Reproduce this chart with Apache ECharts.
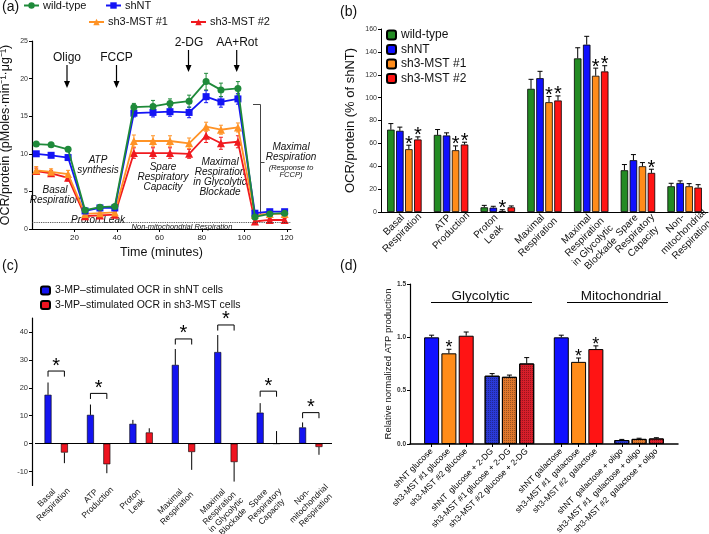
<!DOCTYPE html>
<html><head><meta charset="utf-8">
<script src="https://cdn.jsdelivr.net/npm/echarts@6/dist/echarts.min.js"></script>
<style>html,body{margin:0;padding:0;background:#fff}#c{width:709px;height:534px}</style>
</head><body><div id="c"></div>
<script>
// ================= DATA =================
// Panel (a): OCR time course
const aTimes      = [2, 9, 17, 25, 32, 39, 48, 57, 65, 74, 82, 89, 97, 105, 112, 119];
const aWildType   = [11.3, 11.2, 10.6, 2.5, 2.9, 3.0, 16.2, 16.3, 16.7, 17.0, 19.6, 18.5, 18.7, 1.6, 2.0, 2.1];
const aWildTypeE  = [0.2, 0.2, 0.2, 0.2, 0.2, 0.2, 0.5, 0.8, 0.6, 0.8, 1.1, 0.9, 0.9, 0.2, 0.2, 0.2];
const aShNT       = [10.0, 9.8, 9.5, 2.4, 2.8, 2.8, 15.4, 15.5, 15.6, 15.5, 17.6, 16.9, 17.3, 2.1, 2.3, 2.3];
const aShNTE      = [0.3, 0.3, 0.3, 0.2, 0.2, 0.2, 0.5, 0.6, 0.6, 0.7, 0.8, 0.7, 0.7, 0.2, 0.2, 0.2];
const aMST1       = [7.8, 7.6, 7.3, 2.0, 2.1, 2.2, 11.7, 11.7, 11.7, 11.4, 13.6, 13.2, 13.5, 1.9, 2.0, 2.0];
const aMST1E      = [0.5, 0.4, 0.5, 0.2, 0.2, 0.2, 0.8, 0.7, 0.7, 0.7, 0.6, 0.6, 0.6, 0.2, 0.2, 0.2];
const aMST2       = [7.7, 7.4, 6.8, 1.7, 1.8, 1.9, 10.1, 10.1, 10.1, 10.0, 12.4, 11.4, 11.6, 1.0, 1.2, 1.2];
const aMST2E      = [0.4, 0.4, 0.4, 0.2, 0.2, 0.2, 0.7, 0.7, 0.7, 0.6, 0.9, 0.8, 0.8, 0.2, 0.2, 0.2];
const aNonMito    = 0.9;

// Panel (b): OCR/protein (% of shNT)
const bCategories = ['Basal\nRespiration', 'ATP\nProduction', 'Proton\nLeak', 'Maximal\nRespiration',
                     'Maximal\nRespiration\nin Glycolytic\nBlockade', 'Spare\nRespiratory\nCapacity',
                     'Non-\nmitochondrial\nRespiration'];
const bWildType  = [72, 67.4, 4.1, 107.7, 134.3, 36.5, 22.5];
const bWildTypeE = [5.3, 4.7, 1.7, 8.3, 9.3, 5.0, 2.6];
const bShNT      = [71, 66.9, 3.8, 117, 146.3, 45.3, 25.4];
const bShNTE     = [3.2, 2.3, 1.2, 6.0, 7.3, 4.9, 1.8];
const bMST1      = [54.9, 54, 0.9, 96, 119.1, 40, 22.5];
const bMST1E     = [3.5, 3.8, 1.1, 5.0, 6.7, 3.2, 2.3];
const bMST2      = [63.4, 59, 4.1, 97.5, 122.9, 34.2, 21.3];
const bMST2E     = [2.3, 2.0, 1.2, 4.0, 5.0, 3.2, 2.6];
const bMST1Sig   = [1, 1, 1, 1, 1, 0, 0];
const bMST2Sig   = [1, 1, 0, 1, 1, 1, 0];

// Panel (c): increment in dOCR
const cShNT      = [17.5, 10.3, 7.1, 28.2, 32.8, 11.1, 5.8];
const cShNTE     = [4.4, 3.7, 1.4, 5.7, 6.1, 3.4, 1.8];
const cMST       = [-3.2, -7.4, 4.0, -3.0, -6.6, 0, -1.2];
const cMSTE      = [3.8, 3.2, 1.5, 6.4, 7.0, 4.5, 2.8];
const cSigLevel  = [26, 18, null, 37.5, 42.5, 18.8, 11.1];

// Panel (d): relative normalized ATP production
const dLabels = ['shNT glucose', 'sh3-MST #1 glucose', 'sh3-MST #2 glucose',
                 'shNT  glucose + 2-DG', 'sh3-MST #1 glucose + 2-DG', 'sh3-MST #2 glucose + 2-DG',
                 'shNT galactose', 'sh3-MST #1  galactose', 'sh3-MST #2  galactose',
                 'shNT  galactose + oligo', 'sh3-MST #1  galactose + oligo', 'sh3-MST #2  galactose + oligo'];
const dValues = [1.0, 0.85, 1.015, 0.64, 0.63, 0.755, 1.0, 0.77, 0.89, 0.037, 0.048, 0.052];
const dErr    = [0.02, 0.038, 0.035, 0.02, 0.016, 0.055, 0.02, 0.036, 0.03, 0.006, 0.006, 0.007];
const dSig    = [0, 1, 0, 0, 0, 0, 0, 1, 1, 0, 0, 0];

// ================= STYLE / LAYOUT =================
const FONT = '"Liberation Sans", Arial, Helvetica, sans-serif';
const GREEN = '#1f8a3a', BLUE = '#1414f5', ORANGE = '#ff9326', RED = '#f01a1f';
const bGreen = '#238b23', bBlue = '#1010ff', bOrange = '#ff8c1a', bRed = '#ff1414';
const cYMin = -15, cYMax = 45;

// slot layout for panel (d): gap sizes between bars (in slot units)
const dSteps = [0, 2, 2, 3, 2, 2, 4, 2, 2, 3, 2, 2];
const dSlots = []; { let s = 2; dSteps.forEach((g) => { s += g; dSlots.push(s); }); }
const dNSlots = 31;
const dCats = Array.from({length: dNSlots}, (_, i) => { const k = dSlots.indexOf(i); return k >= 0 ? dLabels[k] : '_s' + i; });
const dColors = [bBlue, bOrange, bRed, '#2b3ad6', '#e0772c', '#d81e2a', bBlue, bOrange, bRed, '#2b3ad6', '#e0772c', '#d81e2a'];
const dPattern = [0, 0, 0, 1, 1, 1, 0, 0, 0, 1, 1, 1];

const measureCtx = document.createElement('canvas').getContext('2d');
function textWidth(s, size) { measureCtx.font = size + 'px ' + FONT; return measureCtx.measureText(s).width; }

function errRender(nBars, barIndex, barWidth, gapRatio, capW, color, starSize) {
  return function (params, api) {
    const cat = api.value(0), v = api.value(1), e = api.value(2), sig = api.value(3);
    const p = api.coord([cat, v]);
    const off = (barIndex - (nBars - 1) / 2) * barWidth * (1 + gapRatio);
    const x = p[0] + off;
    const dir = v < 0 ? -1 : 1;
    const q = api.coord([cat, v + dir * e]);
    const ch = [];
    if (e > 0) {
      ch.push({type: 'line', shape: {x1: x, y1: p[1], x2: x, y2: q[1]}, style: {stroke: color, lineWidth: 1}});
      ch.push({type: 'line', shape: {x1: x - capW / 2, y1: q[1], x2: x + capW / 2, y2: q[1]}, style: {stroke: color, lineWidth: 1}});
    }
    if (sig) {
      ch.push({type: 'text', x: x, y: q[1] - 1, style: {text: '*', fontSize: starSize, fontFamily: FONT, fill: '#000', align: 'center', verticalAlign: 'middle'}});
    }
    return {type: 'group', children: ch};
  };
}

// rotated multi-line category label: lines centred on a common axis, first line ends at the category position
function catLabelRender(labels, baseValue, size, lh, dx, dy) {
  const c = Math.SQRT1_2;
  return function (params, api) {
    const i = api.value(0);
    const p = api.coord([i, baseValue]);
    const lines = labels[i].split('\n');
    const L1 = textWidth(lines[0], size);
    const ex = p[0] + dx, ey = p[1] + dy;
    const cx0 = ex - (L1 / 2) * c, cy0 = ey + (L1 / 2) * c;
    return {type: 'group', children: lines.map((s, k) => ({
      type: 'text', x: cx0 + k * lh * c, y: cy0 + k * lh * c, rotation: Math.PI / 4,
      style: {text: s, fontSize: size, fontFamily: FONT, fill: '#111', align: 'center', verticalAlign: 'middle'}
    }))};
  };
}

function lineErrRender(color) {
  return function (params, api) {
    const t = api.value(0), v = api.value(1), e = api.value(2);
    const a = api.coord([t, v - e]), b = api.coord([t, v + e]);
    return {type: 'group', children: [
      {type: 'line', shape: {x1: a[0], y1: a[1], x2: b[0], y2: b[1]}, style: {stroke: color, lineWidth: 1}},
      {type: 'line', shape: {x1: a[0] - 2, y1: a[1], x2: a[0] + 2, y2: a[1]}, style: {stroke: color, lineWidth: 1}},
      {type: 'line', shape: {x1: b[0] - 2, y1: b[1], x2: b[0] + 2, y2: b[1]}, style: {stroke: color, lineWidth: 1}}
    ]};
  };
}

function bracketRender(barWidth, gapRatio) {
  return function (params, api) {
    const cat = api.value(0), h = api.value(1);
    if (isNaN(h)) return null;
    const p = api.coord([cat, h]);
    const d = barWidth * (1 + gapRatio) / 2;
    const low = api.coord([cat, h - 2])[1];
    return {type: 'group', children: [
      {type: 'polyline', shape: {points: [[p[0] - d, low], [p[0] - d, p[1]], [p[0] + d, p[1]], [p[0] + d, low]]}, style: {stroke: '#000', lineWidth: 1, fill: null}},
      {type: 'text', x: p[0], y: p[1] - 5, style: {text: '*', fontSize: 20, fontFamily: FONT, fill: '#000', align: 'center', verticalAlign: 'middle'}}
    ]};
  };
}

const axisLineStyle = {lineStyle: {color: '#000', width: 1}};
const tickStyle = {show: true, length: 3, lineStyle: {color: '#000'}};

function lineSeries(name, arr, color, symbol, z) {
  return {name, type: 'line', xAxisIndex: 0, yAxisIndex: 0, data: aTimes.map((t, i) => [t, arr[i]]),
          symbol, symbolSize: symbol === 'triangle' ? 8 : 7, itemStyle: {color}, lineStyle: {color, width: 1.8}, z, animation: false};
}
function lineErr(arr, err, color, z) {
  return {type: 'custom', xAxisIndex: 0, yAxisIndex: 0, data: aTimes.map((t, i) => [t, arr[i], err[i]]),
          renderItem: lineErrRender(color), z, silent: true, animation: false};
}

const bBW = 7.5, bGap = 0.2;
function bBar(name, arr, color) {
  return {name, type: 'bar', xAxisIndex: 1, yAxisIndex: 1, data: arr, barWidth: bBW, barGap: (bGap * 100) + '%',
          itemStyle: {color, borderColor: '#000', borderWidth: 0.8}, animation: false};
}
function bErr(arr, err, sig, idx) {
  return {type: 'custom', xAxisIndex: 1, yAxisIndex: 1, data: arr.map((v, i) => [i, v, err[i], sig ? sig[i] : 0]),
          renderItem: errRender(4, idx, bBW, bGap, 5, '#000', 20), z: 5, silent: true, animation: false};
}

const cBW = 7, cGap = 1.34;

const names = {b: ['b:wild-type', 'b:shNT', 'b:sh3-MST #1', 'b:sh3-MST #2']};
const cNames = ['3-MP\u2013stimulated OCR in shNT cells', '3-MP\u2013stimulated OCR in sh3-MST cells'];

function legendA(name, left, top) {
  return {data: [name], left, top, itemWidth: 15, itemHeight: 8, padding: 0,
          textStyle: {fontSize: 11, fontFamily: FONT, color: '#111', padding: [0, 0, 0, -1]}, selectedMode: false};
}

function txt(x, y, text, size, style, align) {
  return {type: 'text', x, y, silent: true, style: {text, fontSize: size, fontFamily: FONT, fontStyle: style || 'normal',
          fill: '#111', align: align || 'center', verticalAlign: 'middle', lineHeight: size * 1.0}};
}
function arrow(x, y1, y2) {
  return {type: 'group', silent: true, children: [
    {type: 'line', shape: {x1: x, y1: y1, x2: x, y2: y2 - 5}, style: {stroke: '#000', lineWidth: 1.2}},
    {type: 'polygon', shape: {points: [[x - 3, y2 - 7], [x + 3, y2 - 7], [x, y2]]}, style: {fill: '#000'}}
  ]};
}

const option = {
  backgroundColor: '#fff',
  textStyle: {fontFamily: FONT},
  animation: false,
  grid: [
    {left: 32, top: 41, width: 259, height: 188, outerBoundsMode: 'none'},
    {left: 381, top: 29, width: 327, height: 183, outerBoundsMode: 'none'},
    {left: 35, top: 318, width: 297, height: 167.5, outerBoundsMode: 'none'},
    {left: 410, top: 284, width: 268, height: 160, outerBoundsMode: 'none'}
  ],
  legend: [
    legendA('wild-type', 23, 0),
    legendA('shNT', 105, 0),
    legendA('sh3-MST #1', 88, 16.5),
    legendA('sh3-MST #2', 190, 16.5),
    {data: names.b, orient: 'vertical', left: 386, top: 29, itemWidth: 9, itemHeight: 9, itemGap: 2.5, padding: 0,
     formatter: (n) => n.slice(2), selectedMode: false, textStyle: {fontSize: 12, fontFamily: FONT, color: '#111'}},
    {data: cNames, orient: 'vertical', left: 40, top: 285, itemWidth: 9, itemHeight: 8, itemGap: 3.5, padding: 0,
     selectedMode: false, textStyle: {fontSize: 10.5, fontFamily: FONT, color: '#111'}}
  ],
  xAxis: [
    {gridIndex: 0, type: 'value', min: 0, max: 122, interval: 20, splitLine: {show: false},
     axisLine: {onZero: false, lineStyle: {color: '#000', width: 1}}, axisTick: tickStyle,
     axisLabel: {fontSize: 8, color: '#222', margin: 5, showMinLabel: false, showMaxLabel: false},
     name: 'Time (minutes)', nameLocation: 'middle', nameGap: 17, nameTextStyle: {fontSize: 12.5, color: '#111'}},
    {gridIndex: 1, type: 'category', data: bCategories, axisLine: axisLineStyle, axisTick: {show: false},
     axisLabel: {show: false}},
    {gridIndex: 2, type: 'category', data: bCategories, axisLine: {show: false, onZero: false}, axisTick: {show: false},
     axisLabel: {show: false}},
    {gridIndex: 3, type: 'category', data: dCats, axisLine: {lineStyle: {color: '#000', width: 1.5}},
     axisTick: {show: true, alignWithLabel: true, length: 3, interval: (i) => dSlots.indexOf(i) >= 0, lineStyle: {color: '#000'}},
     axisLabel: {interval: (i) => dSlots.indexOf(i) >= 0, rotate: 45, fontSize: 8.5, color: '#000', margin: 6,
                 formatter: (v) => v.startsWith('_s') ? '' : v}}
  ],
  yAxis: [
    {gridIndex: 0, type: 'value', min: 0, max: 25, interval: 5, splitLine: {show: false},
     axisLine: {show: true, lineStyle: {color: '#000', width: 1.2}}, axisTick: tickStyle,
     axisLabel: {fontSize: 7, color: '#333', margin: 4},
     name: 'OCR/protein (pMoles\u00b7min\u207b\u00b9\u00b7\u03bcg\u207b\u00b9)', nameLocation: 'middle', nameGap: 20, nameRotate: 90,
     nameTextStyle: {fontSize: 12.5, color: '#111'}},
    {gridIndex: 1, type: 'value', min: 0, max: 160, interval: 20, splitLine: {show: false},
     axisLine: {show: true, lineStyle: {color: '#000', width: 1}}, axisTick: tickStyle,
     axisLabel: {fontSize: 7, color: '#333', margin: 4},
     name: 'OCR/protein (% of shNT)', nameLocation: 'middle', nameGap: 24, nameRotate: 90,
     nameTextStyle: {fontSize: 13, color: '#111'}},
    {gridIndex: 2, type: 'value', min: cYMin, max: cYMax, splitNumber: 6, splitLine: {show: false}, offset: 3,
     axisLine: {show: true, lineStyle: {color: '#000', width: 1.2}}, axisTick: tickStyle,
     axisLabel: {fontSize: 7.5, color: '#333', margin: 4, showMinLabel: false, showMaxLabel: false},
     name: 'Increment in \u0394OCR (% of shNT)', nameLocation: 'middle', nameGap: 16, nameRotate: 90,
     nameTextStyle: {fontSize: 12, color: '#111', padding: [0, 0, 20, 0]}},
    {gridIndex: 3, type: 'value', min: 0, max: 1.5, interval: 0.5, splitLine: {show: false},
     axisLine: {show: true, lineStyle: {color: '#000', width: 1.2}}, axisTick: tickStyle,
     axisLabel: {fontSize: 6.5, fontWeight: 'bold', color: '#333', margin: 4, formatter: (v) => v.toFixed(1)},
     name: 'Relative normalized ATP production', nameLocation: 'middle', nameGap: 14, nameRotate: 90,
     nameTextStyle: {fontSize: 9.5, color: '#111'}}
  ],
  series: [
    // ---- (a)
    Object.assign(lineSeries('sh3-MST #2', aMST2, RED, 'triangle', 3), {
      markLine: {silent: true, symbol: 'none', label: {show: false}, data: [{yAxis: aNonMito}],
                 lineStyle: {color: '#333', type: 'dotted', width: 0.9}}}),
    lineSeries('sh3-MST #1', aMST1, ORANGE, 'triangle', 4),
    lineSeries('shNT', aShNT, BLUE, 'rect', 5),
    lineSeries('wild-type', aWildType, GREEN, 'circle', 6),
    lineErr(aMST2, aMST2E, RED, 2), lineErr(aMST1, aMST1E, ORANGE, 2),
    lineErr(aShNT, aShNTE, BLUE, 2), lineErr(aWildType, aWildTypeE, GREEN, 2),
    // ---- (b)
    bBar(names.b[0], bWildType, bGreen), bBar(names.b[1], bShNT, bBlue),
    bBar(names.b[2], bMST1, bOrange), bBar(names.b[3], bMST2, bRed),
    bErr(bWildType, bWildTypeE, null, 0), bErr(bShNT, bShNTE, null, 1),
    bErr(bMST1, bMST1E, bMST1Sig, 2), bErr(bMST2, bMST2E, bMST2Sig, 3),
    {type: 'custom', xAxisIndex: 1, yAxisIndex: 1, data: bCategories.map((c, i) => [i, 0]), silent: true, clip: false,
     renderItem: catLabelRender(bCategories, 0, 10, 11.5, -1.5, 4)},
    // ---- (c)
    {name: cNames[0], type: 'bar', xAxisIndex: 2, yAxisIndex: 2, data: cShNT, barWidth: cBW, barGap: (cGap * 100) + '%',
     itemStyle: {color: '#1414f0', borderColor: '#000', borderWidth: 0.6},
     markLine: {silent: true, symbol: 'none', label: {show: false}, data: [{yAxis: 0}], lineStyle: {color: '#000', type: 'solid', width: 1.2}}},
    {name: cNames[1], type: 'bar', xAxisIndex: 2, yAxisIndex: 2, data: cMST, barWidth: cBW, barGap: (cGap * 100) + '%',
     itemStyle: {color: '#ee1420', borderColor: '#000', borderWidth: 0.6}},
    {type: 'custom', xAxisIndex: 2, yAxisIndex: 2, data: cShNT.map((v, i) => [i, v, cShNTE[i], 0]),
     renderItem: errRender(2, 0, cBW, cGap, 0, '#000', 18), z: 5, silent: true},
    {type: 'custom', xAxisIndex: 2, yAxisIndex: 2, data: cMST.map((v, i) => [i, v, cMSTE[i], 0]),
     renderItem: errRender(2, 1, cBW, cGap, 0, '#000', 18), z: 5, silent: true},
    {type: 'custom', xAxisIndex: 2, yAxisIndex: 2, data: cSigLevel.map((h, i) => [i, h == null ? '-' : h]),
     renderItem: bracketRender(cBW, cGap), z: 5, silent: true},
    {type: 'custom', xAxisIndex: 2, yAxisIndex: 2, data: bCategories.map((c, i) => [i, cYMin]), silent: true, clip: false,
     renderItem: catLabelRender(bCategories, cYMin, 8.5, 9.5, -2, 5)},
    // ---- (d)
    {type: 'bar', xAxisIndex: 3, yAxisIndex: 3, barWidth: 15,
     data: dCats.map((c, i) => {
       const k = dSlots.indexOf(i);
       if (k < 0) return '-';
       const st = {color: dColors[k], borderColor: '#000', borderWidth: 1};
       if (dPattern[k]) st.decal = {symbol: 'rect', symbolSize: 1, color: 'rgba(0,0,0,0.3)', dashArrayX: [1, 1], dashArrayY: [1, 1]};
       return {value: dValues[k], itemStyle: st};
     })},
    {type: 'custom', xAxisIndex: 3, yAxisIndex: 3, data: dValues.map((v, k) => [dSlots[k], v, dErr[k], dSig[k]]),
     renderItem: errRender(1, 0, 15, 0, 5, '#000', 18), z: 5, silent: true}
  ],
  graphic: [
    txt(2, 7, '(a)', 14, 'normal', 'left'),
    txt(340, 12, '(b)', 14, 'normal', 'left'),
    txt(2, 266, '(c)', 14, 'normal', 'left'),
    txt(340, 266, '(d)', 14, 'normal', 'left'),
    txt(67, 58, 'Oligo', 12), arrow(67, 65, 88),
    txt(116.5, 58, 'FCCP', 12), arrow(116.5, 65, 88),
    txt(189, 43, '2-DG', 12), arrow(188.5, 50, 72),
    txt(237, 43, 'AA+Rot', 12), arrow(236.7, 50, 72),
    txt(98, 165, 'ATP\nsynthesis', 10, 'italic'),
    txt(55, 195, 'Basal\nRespiration', 10, 'italic'),
    txt(163, 177, 'Spare\nRespiratory\nCapacity', 10, 'italic'),
    txt(220, 177, 'Maximal\nRespiration\nin Glycolytic\nBlockade', 10, 'italic'),
    txt(98, 220.5, 'Proton Leak', 10, 'italic'),
    txt(182, 226.5, 'Non-mitochondrial Respiration', 7.5, 'italic'),
    txt(291, 152, 'Maximal\nRespiration', 10, 'italic'),
    txt(291, 171.5, '(Response to\nFCCP)', 7.5, 'italic'),
    {type: 'polyline', silent: true, shape: {points: [[253, 104.5], [260.5, 104.5], [260.5, 215]]}, style: {stroke: '#444', lineWidth: 1, fill: null}},
    {type: 'line', silent: true, shape: {x1: 260.5, y1: 162.5, x2: 264.5, y2: 162.5}, style: {stroke: '#444', lineWidth: 1}},
    txt(480.5, 296, 'Glycolytic', 13.5),
    {type: 'line', silent: true, shape: {x1: 431, y1: 302.5, x2: 532, y2: 302.5}, style: {stroke: '#000', lineWidth: 1.2}},
    txt(621, 296, 'Mitochondrial', 13.5),
    {type: 'line', silent: true, shape: {x1: 567, y1: 302.5, x2: 668, y2: 302.5}, style: {stroke: '#000', lineWidth: 1.2}}
  ]
};

const chart = echarts.init(document.getElementById('c'), null, {renderer: 'canvas'});
chart.setOption(option);
</script>
</body></html>
